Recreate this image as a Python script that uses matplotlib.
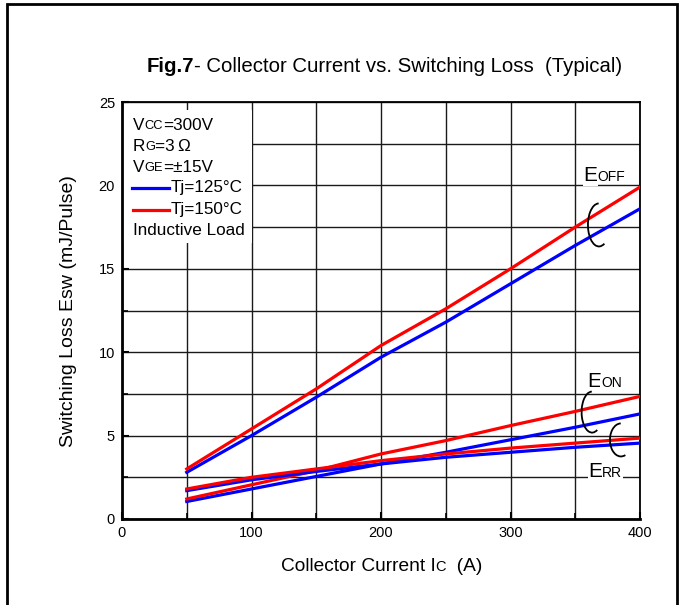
import matplotlib
matplotlib.use('Agg')
import matplotlib.pyplot as plt
from matplotlib.patches import Rectangle, Arc

plt.rcParams['font.family'] = ['Liberation Sans', 'DejaVu Sans']

# data
current = [50, 100, 150, 200, 250, 300, 350, 400]
eoff_125 = [2.8, 5.0, 7.3, 9.7, 11.8, 14.1, 16.4, 18.6]
eoff_150 = [3.0, 5.4, 7.8, 10.4, 12.6, 15.0, 17.5, 19.9]
eon_125 = [1.05, 1.8, 2.55, 3.3, 4.0, 4.75, 5.5, 6.3]
eon_150 = [1.2, 2.05, 2.9, 3.9, 4.7, 5.6, 6.45, 7.35]
err_125 = [1.7, 2.35, 2.85, 3.3, 3.7, 4.0, 4.3, 4.55]
err_150 = [1.8, 2.5, 3.0, 3.5, 3.9, 4.25, 4.55, 4.85]

x_ticks = [0, 100, 200, 300, 400]
y_ticks = [0, 5, 10, 15, 20, 25]

BLUE = '#0000ff'
RED = '#ff0000'

fig = plt.figure(figsize=(6.88, 6.05), dpi=100)
ax = fig.add_axes([122/688, 86/605, 518/688, 417/605])


def rich(x, y, parts, transform, bg=False, zorder=5):
    # text made of pieces of different size (E + small caps), kept on one baseline
    bbox = dict(facecolor='white', edgecolor='none', pad=0.5) if bg else None
    s, size, weight = parts[0]
    prev = ax.text(x, y, s, fontsize=size, fontweight=weight, transform=transform,
                   va='baseline', ha='left', bbox=bbox, zorder=zorder)
    prev_size = size
    for s, size, weight in parts[1:]:
        off = 0.21 * (prev_size - size)
        prev = ax.annotate(s, xy=(1, 0), xycoords=prev, xytext=(0, off),
                           textcoords='offset points', fontsize=size, fontweight=weight,
                           va='bottom', ha='left', bbox=bbox, zorder=zorder,
                           annotation_clip=False)
        prev_size = size
    return prev


lw = 2.3
ax.plot(current, eoff_125, color=BLUE, lw=lw, zorder=3)
ax.plot(current, eoff_150, color=RED, lw=lw, zorder=3)
ax.plot(current, eon_125, color=BLUE, lw=lw, zorder=3)
ax.plot(current, eon_150, color=RED, lw=lw, zorder=3)
ax.plot(current, err_125, color=BLUE, lw=lw, zorder=3)
ax.plot(current, err_150, color=RED, lw=lw, zorder=3)

ax.set_xlim(0, 400)
ax.set_ylim(0, 25)
ax.set_xticks(x_ticks)
ax.set_yticks(y_ticks)
ax.set_xticks(range(0, 401, 50), minor=True)
ax.set_yticks([v * 2.5 for v in range(11)], minor=True)
ax.tick_params(which='both', direction='in', labelsize=10.5, color='black')
ax.tick_params(which='major', length=5, width=1.5, pad=5)
ax.tick_params(which='minor', length=4, width=1.2)
ax.grid(which='both', color='#1a1a1a', lw=1.0)
ax.set_axisbelow(True)
for side in ['left', 'bottom']:
    ax.spines[side].set_linewidth(2.0)
for side in ['top', 'right']:
    ax.spines[side].set_linewidth(1.3)

# white box behind the conditions block
ax.add_patch(Rectangle((0, 16.55), 100, 7.95, facecolor='white', edgecolor='none', zorder=2))

T = ax.transData
fs = 12.3
sc = 9.3
rich(8.5, 23.32, [('V', fs, 'normal'), ('CC', sc, 'normal'), ('=300V', fs, 'normal')], T)
rich(8.5, 22.06, [('R', fs, 'normal'), ('G', sc, 'normal'), ('=3\u2009Ω', fs, 'normal')], T)
rich(8.5, 20.80, [('V', fs, 'normal'), ('GE', sc, 'normal'), ('=±15V', fs, 'normal')], T)
ax.plot([7.5, 36.5], [19.83, 19.83], color=BLUE, lw=2.3, zorder=4)
ax.text(37.8, 19.59, 'Tj=125°C', fontsize=fs, va='baseline', zorder=5)
ax.plot([8.5, 36.5], [18.53, 18.53], color=RED, lw=2.3, zorder=4)
ax.text(37.8, 18.29, 'Tj=150°C', fontsize=fs, va='baseline', zorder=5)
ax.text(8.5, 17.03, 'Inductive Load', fontsize=fs, va='baseline', zorder=5)

# curve group labels
rich(356.5, 20.26, [('E', 15, 'normal'), ('OFF', 10, 'normal')], T, bg=True)
rich(359, 7.91, [('E', 15, 'normal'), ('ON', 10, 'normal')], T, bg=True)
rich(360, 2.52, [('E', 15, 'normal'), ('RR', 10, 'normal')], T, bg=True)

for cx, cy, w, h in [(368.3, 17.63, 17, 2.58), (363, 6.41, 16.2, 2.46), (385.3, 4.74, 17, 1.98)]:
    ax.add_patch(Arc((cx, cy), w, h, theta1=100, theta2=345, color='black', lw=1.3, zorder=6))

# title and axis labels
F = fig.transFigure
rich(147/688, 1 - 72/605, [('Fig.7', 14.7, 'bold'),
                           ('- Collector Current vs. Switching Loss  (Typical)', 14.7, 'normal')], F)
rich(281/688, 1 - 571/605, [('Collector Current I', 13.8, 'normal'), ('C', 10.5, 'normal'),
                            ('  (A)', 13.8, 'normal')], F)
fig.text(77/688, 1 - 311/605, 'Switching Loss Esw (mJ/Pulse)', rotation=90,
         fontsize=14, ha='right', va='center')

# outer frame of the datasheet figure
fig.add_artist(Rectangle((7/688, -0.1), 670/688, 1.1 - 4/605, transform=F,
                         facecolor='none', edgecolor='black', lw=2.0))

fig.savefig('out.png', dpi=100)
